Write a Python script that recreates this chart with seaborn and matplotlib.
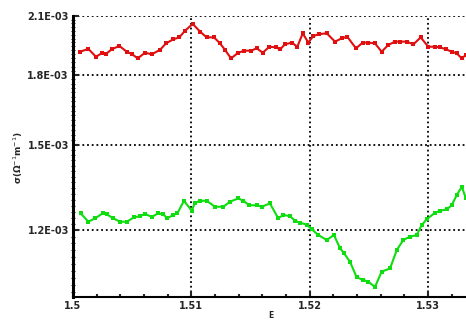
import matplotlib
matplotlib.use("Agg")
import matplotlib.pyplot as plt
from matplotlib.ticker import FixedLocator, NullFormatter
import seaborn as sns
import pandas as pd

red_x = [1.50059, 1.50130, 1.50194, 1.50242, 1.50279, 1.50327, 1.50392, 1.50454, 1.50496, 1.50547,
         1.50609, 1.50665, 1.50735, 1.50786, 1.50848, 1.50899, 1.50947, 1.51012, 1.51074, 1.51130,
         1.51192, 1.51243, 1.51285, 1.51336, 1.51397, 1.51448, 1.51505, 1.51553, 1.51604, 1.51659,
         1.51716, 1.51750, 1.51792, 1.51849, 1.51896, 1.51942, 1.51989, 1.52031, 1.52082, 1.52145,
         1.52215, 1.52271, 1.52319, 1.52392, 1.52449, 1.52496, 1.52553, 1.52609, 1.52665, 1.52722,
         1.52764, 1.52821, 1.52877, 1.52939, 1.53003, 1.53060, 1.53102, 1.53153, 1.53201, 1.53243,
         1.53286, 1.53322]
red_y = [1.913, 1.927, 1.888, 1.905, 1.902, 1.925, 1.942, 1.913, 1.902, 1.880,
         1.908, 1.900, 1.922, 1.955, 1.976, 1.986, 2.021, 2.057, 2.016, 1.986,
         1.986, 1.955, 1.922, 1.880, 1.908, 1.918, 1.918, 1.930, 1.908, 1.938,
         1.935, 1.925, 1.950, 1.959, 1.938, 2.007, 1.959, 1.993, 2.003, 2.007,
         1.964, 1.981, 1.989, 1.930, 1.959, 1.959, 1.955, 1.913, 1.947, 1.964,
         1.964, 1.964, 1.950, 1.986, 1.938, 1.938, 1.935, 1.925, 1.913, 1.905,
         1.880, 1.897]

green_x = [1.50065, 1.50130, 1.50186, 1.50251, 1.50285, 1.50341, 1.50397, 1.50454, 1.50516, 1.50566,
           1.50609, 1.50665, 1.50721, 1.50763, 1.50797, 1.50848, 1.50882, 1.50938, 1.51003, 1.51031,
           1.51074, 1.51130, 1.51200, 1.51271, 1.51327, 1.51397, 1.51440, 1.51490, 1.51553, 1.51595,
           1.51665, 1.51735, 1.51778, 1.51834, 1.51877, 1.51919, 1.51975, 1.52018, 1.52074, 1.52145,
           1.52206, 1.52257, 1.52291, 1.52342, 1.52398, 1.52454, 1.52496, 1.52553, 1.52609, 1.52680,
           1.52736, 1.52792, 1.52849, 1.52905, 1.52947, 1.52990, 1.53060, 1.53102, 1.53159, 1.53201,
           1.53243, 1.53286, 1.53322]
green_y = [1.254, 1.227, 1.238, 1.254, 1.251, 1.238, 1.227, 1.227, 1.241, 1.245,
           1.252, 1.243, 1.254, 1.251, 1.238, 1.249, 1.254, 1.296, 1.263, 1.289,
           1.296, 1.296, 1.276, 1.276, 1.293, 1.304, 1.296, 1.281, 1.281, 1.276,
           1.287, 1.238, 1.249, 1.245, 1.230, 1.224, 1.218, 1.203, 1.185, 1.170,
           1.185, 1.145, 1.130, 1.105, 1.061, 1.054, 1.049, 1.035, 1.077, 1.086,
           1.139, 1.170, 1.180, 1.185, 1.216, 1.235, 1.256, 1.263, 1.267, 1.281,
           1.315, 1.344, 1.304]

y_ticks = [1.2e-3, 1.5e-3, 1.8e-3, 2.1e-3]
y_tick_labels = ["1.2E-03", "1.5E-03", "1.8E-03", "2.1E-03"]
x_ticks = [1.50, 1.51, 1.52, 1.53]
x_tick_labels = ["1.5", "1.51", "1.52", "1.53"]

sns.set_style("white")
plt.rcParams['font.family'] = ['DejaVu Sans']

df = pd.concat([
    pd.DataFrame({"x": red_x, "y": [v * 1e-3 for v in red_y], "s": "red"}),
    pd.DataFrame({"x": green_x, "y": [v * 1e-3 for v in green_y], "s": "green"}),
])

fig = plt.figure(figsize=(4.66, 3.2), dpi=100)
ax = fig.add_axes([73/466, 23/320, 1 - 73/466, (297 - 16)/320])

sns.lineplot(data=df, x="x", y="y", hue="s", palette={"red": "#e01010", "green": "#10dd10"},
             marker="s", markersize=3.5, markeredgewidth=0, linewidth=1.5,
             legend=False, ax=ax, estimator=None, sort=False)

ax.set_yscale("log")
ax.set_ylim(1.008e-3, 2.1e-3)
ax.set_xlim(1.5, 1.53322)

ax.yaxis.set_major_locator(FixedLocator(y_ticks))
ax.set_yticklabels(y_tick_labels)
ax.yaxis.set_minor_locator(FixedLocator([1.0e-3 + i * 0.02e-3 for i in range(56)]))
ax.yaxis.set_minor_formatter(NullFormatter())
ax.set_xticks(x_ticks)
ax.set_xticklabels(x_tick_labels)
ax.xaxis.set_minor_locator(FixedLocator([1.5 + i * 0.002 for i in range(17)]))

ax.grid(True, which="major", color="black", linestyle=(0, (1, 1.6)), linewidth=1.3)
ax.tick_params(axis="both", which="major", direction="in", length=4, width=1.5,
               labelsize=7, pad=3)
ax.tick_params(axis="y", which="minor", direction="inout", length=3, width=0.8, left=True)
ax.tick_params(axis="x", which="minor", direction="in", length=2.5, width=1.5, bottom=True)
ax.tick_params(axis="y", which="major", left=True)
ax.tick_params(axis="x", which="major", bottom=True)
for lab in ax.get_xticklabels() + ax.get_yticklabels():
    lab.set_fontweight("bold")

for side in ["top", "right"]:
    ax.spines[side].set_visible(False)
ax.spines["left"].set_linewidth(2.2)
ax.spines["bottom"].set_linewidth(1.5)
ax.spines["left"].set_color("black")
ax.spines["bottom"].set_color("black")

ax.set_xlabel("")
ax.set_ylabel("")
fig.text(18/466, 1 - 158/320, "σ(Ω$^{-1}$m$^{-1}$)", rotation=90, fontsize=6.5,
         fontweight="bold", ha="center", va="center")
fig.text(271/466, 1 - 315/320, "E", fontsize=5.5, fontweight="bold", ha="center", va="center")

fig.savefig("out.png", dpi=100)
